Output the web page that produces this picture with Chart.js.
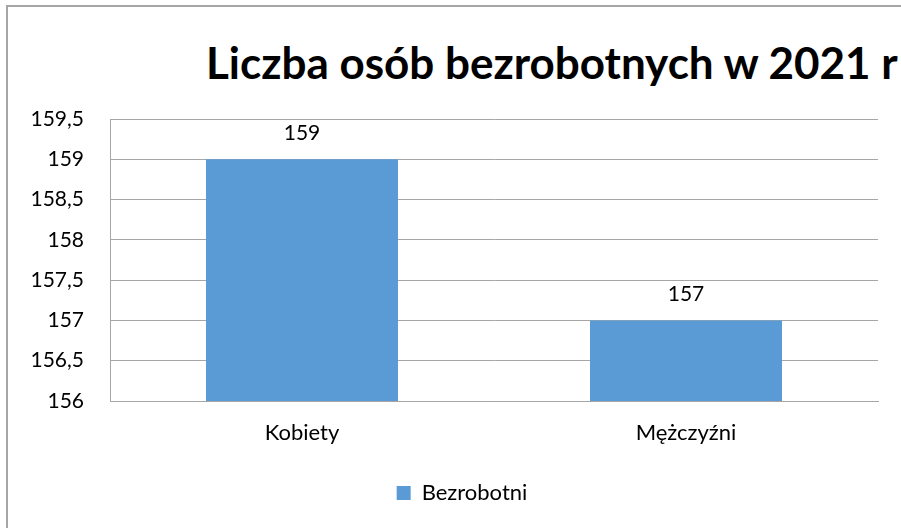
<!DOCTYPE html>
<html lang="pl">
<head>
  <meta charset="UTF-8">
  <title>Liczba osób bezrobotnych w 2021 r</title>
  <script src="https://cdn.jsdelivr.net/npm/chart.js"></script>
  <style>
    html, body {
      margin: 0;
      padding: 0;
      width: 901px;
      height: 528px;
      overflow: hidden;
      background: #ffffff;
      font-family: Lato, "Open Sans", sans-serif;
    }
    .frame {
      position: absolute;
      left: 6px;
      top: 5px;
      width: 1000px;
      height: 600px;
      border: 2px solid #a6a6a6;
    }
    h1 {
      position: absolute;
      left: 206px;
      top: 36px;
      margin: 0;
      font-size: 44px;
      font-weight: bold;
      line-height: 1.2;
      white-space: nowrap;
      color: #000;
    }
    .chart-box {
      position: absolute;
      left: 0;
      top: 0;
      width: 924px;
      height: 528px;
    }
  </style>
</head>
<body>
  <div class="frame"></div>
  <h1>Liczba osób bezrobotnych w 2021 r</h1>
  <div class="chart-box"><canvas id="barChart" width="924" height="528"></canvas></div>
  <script>
    // values
    const categories = ['Kobiety', 'Mężczyźni'];
    const seriesName = 'Bezrobotni';
    const bezrobotni = [159, 157];
    const yMin = 156;
    const yMax = 159.5;
    const yStep = 0.5;

    const fmt = v => String(v).replace('.', ',');

    // number above each bar
    const barLabels = {
      id: 'barLabels',
      afterDatasetsDraw(chart) {
        const ctx = chart.ctx;
        const meta = chart.getDatasetMeta(0);
        ctx.save();
        ctx.font = '21px Lato';
        ctx.fillStyle = '#000';
        ctx.textAlign = 'center';
        ctx.textBaseline = 'alphabetic';
        meta.data.forEach((bar, i) => {
          ctx.fillText(fmt(bezrobotni[i]), bar.x, bar.y - 19);
        });
        ctx.restore();
      }
    };

    new Chart(document.getElementById('barChart'), {
      type: 'bar',
      data: {
        labels: categories,
        datasets: [{
          label: seriesName,
          data: bezrobotni,
          backgroundColor: '#5b9bd5',
          barPercentage: 0.5,
          categoryPercentage: 1.0,
          yAxisID: 'y'
        }]
      },
      options: {
        responsive: false,
        animation: false,
        maintainAspectRatio: false,
        layout: { padding: { top: 119, left: 0, right: 0, bottom: 14 } },
        plugins: {
          title: { display: false },
          tooltip: { enabled: false },
          legend: {
            position: 'bottom',
            labels: {
              boxWidth: 14,
              boxHeight: 14,
              padding: 10,
              color: '#000',
              font: { family: 'Lato', size: 22 }
            }
          }
        },
        scales: {
          x: {
            grid: { display: false, drawTicks: false },
            border: { display: true, color: '#a6a6a6' },
            ticks: {
              color: '#000',
              padding: 19,
              font: { family: 'Lato', size: 22 }
            },
            afterFit(scale) { scale.height = 71; }
          },
          y: {
            min: yMin,
            max: yMax,
            position: 'left',
            grid: { color: '#a6a6a6', lineWidth: 1, drawTicks: false },
            border: { display: true, color: '#a6a6a6' },
            ticks: {
              stepSize: yStep,
              color: '#000',
              padding: 26,
              font: { family: 'Lato', size: 21 },
              callback: v => fmt(v)
            },
            afterFit(scale) { scale.width = 110; }
          },
          // empty right axis keeps the plot's right edge where the picture has it
          yRight: {
            position: 'right',
            display: true,
            grid: { display: false, drawTicks: false },
            border: { display: false },
            ticks: { display: false },
            afterFit(scale) { scale.width = 46; }
          }
        }
      },
      plugins: [barLabels]
    });
  </script>
</body>
</html>
